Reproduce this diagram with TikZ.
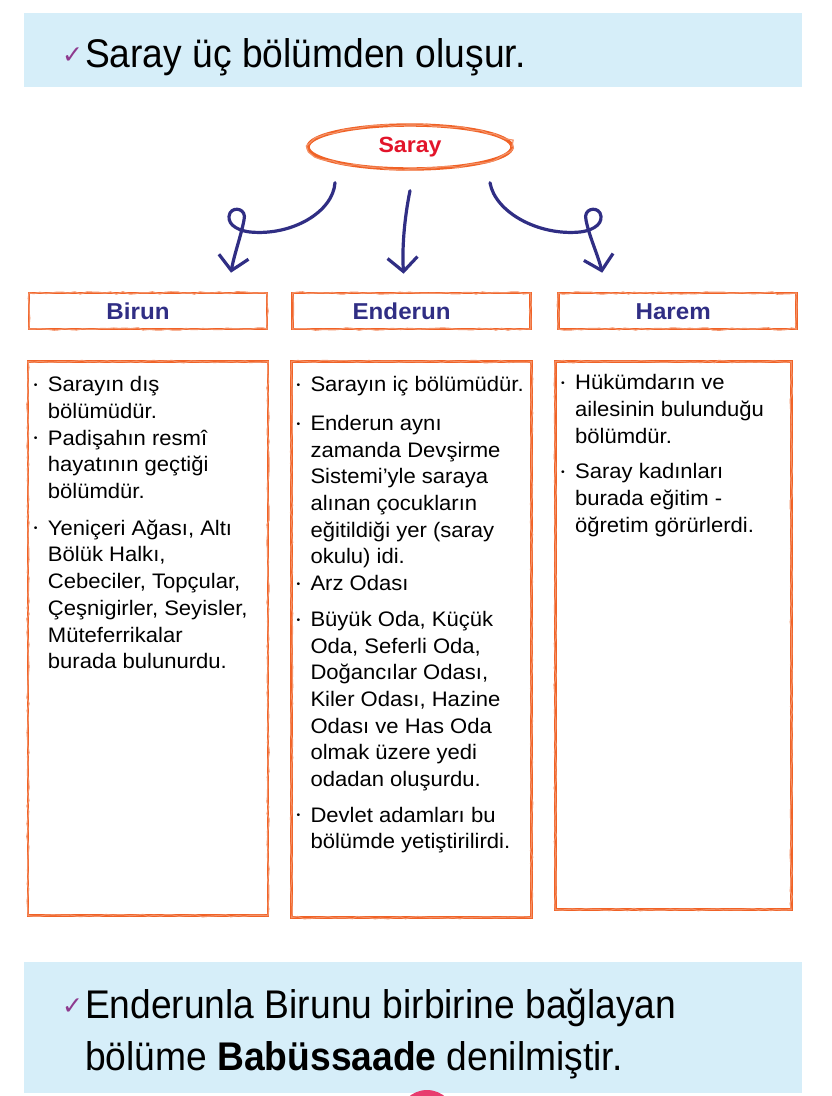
\documentclass[tikz,border=0pt]{standalone}
\usepackage{graphicx}
\usepackage{fontspec}
\setmainfont{Liberation Sans}
\newfontfamily\bannerfont[FakeStretch=0.93]{Liberation Sans}
\newfontfamily\bodyfont[FakeStretch=1.05]{Liberation Sans}
\newfontfamily\symfont{DejaVu Sans}
\usetikzlibrary{positioning, arrows.meta, shapes.geometric, decorations.pathmorphing}
\definecolor{cBanner}{RGB}{214,238,249}
\definecolor{cCrayon}{RGB}{240,98,38}
\definecolor{cNavy}{RGB}{48,46,132}
\definecolor{cRed}{RGB}{226,20,42}
\definecolor{cCheck}{RGB}{142,58,142}
\definecolor{cDot}{RGB}{232,60,110}

\newcommand{\checkm}{\raisebox{4pt}{\symfont\color{cCheck}\fontsize{25}{25}\selectfont ✓}}
\newcommand{\blt}{\makebox[14pt][l]{\raisebox{0.3ex}{\fontsize{10}{10}\selectfont •}}}
\newcommand{\ind}{\hspace*{14pt}}

\tikzset{
  crayon/.style={draw=cCrayon, line width=2.6pt,
    postaction={draw=cCrayon!70!white, line width=1.2pt, decorate,
      decoration={random steps, segment length=6pt, amplitude=1.2pt}}},
  banner/.style={fill=cBanner, minimum width=778pt, inner sep=0pt},
  bannertext/.style={font=\bannerfont\fontsize{40}{52}\selectfont, inner sep=0pt, align=left},
  headbox/.style={crayon, minimum width=238pt, minimum height=36pt, inner sep=0pt,
    text height=17pt, text depth=0pt,
    font=\bodyfont\bfseries\fontsize{23}{23}\selectfont, text=cNavy},
  listbox/.style={crayon, minimum width=240pt, inner sep=0pt},
  listtext/.style={font=\bodyfont\fontsize{21}{26.7}\selectfont, align=left, inner sep=0pt, anchor=north west},
  sketch/.style={draw=cNavy, line width=3.2pt, line cap=round, line join=round,
    -{Straight Barb[length=14pt, width=30pt]}}
}

\begin{document}
\begin{tikzpicture}[x=1pt, y=-1pt]
   \useasboundingbox (0,0) rectangle (832,1096);

   % top line
   \node[banner, minimum height=74pt] (topbar) at (413,50) {};
   \node[bannertext, anchor=base west] (toptext) at ([xshift=38pt, yshift=-17pt]topbar.west)
      {\makebox[23pt][l]{\checkm}Saray üç bölümden oluşur.};

   % Saray and the three parts
   \node[ellipse, crayon, line width=3.4pt, minimum width=204pt, minimum height=44pt,
         font=\bodyfont\bfseries\fontsize{22}{22}\selectfont, text=cRed] (saray) at (410,147) {Saray};

   \node[headbox] (birun) at (148,311) {Birun\hspace*{20pt}};
   \node[headbox, right=23pt of birun] (enderun) {Enderun\hspace*{20pt}};
   \node[headbox, right=25pt of enderun] (harem) {Harem\hspace*{8pt}};

   \node[listbox, minimum height=554pt, below=30pt of birun] (birunbox) {};
   \node[listbox, minimum height=556pt, below=30pt of enderun] (enderunbox) {};
   \node[listbox, minimum width=236pt, minimum height=548pt, below=30pt of harem, xshift=-4pt] (harembox) {};

   % hand drawn arrows
   \draw[sketch] ([xshift=-75pt, yshift=-12pt]saray.south)
      .. controls (333,212) and (292,236) .. (250,232)
      .. controls (234,230) and (226,222) .. (230,213)
      .. controls (234,206) and (247,209) .. (244,220)
      .. controls (241,236) and (234,255) .. ([xshift=83pt, yshift=19pt]birun.north);
   \draw[sketch] ([yshift=-20pt]saray.south)
      .. controls (404,220) and (402,250) .. ([xshift=-8pt, yshift=18pt]enderun.north);
   \draw[sketch] ([xshift=80pt, yshift=-12pt]saray.south)
      .. controls (495,212) and (538,236) .. (580,232)
      .. controls (596,230) and (604,222) .. (600,213)
      .. controls (596,206) and (583,209) .. (586,220)
      .. controls (589,236) and (598,255) .. ([xshift=-75pt, yshift=19pt]harem.north);

   % lists
   \node[listtext] (biruntext) at ([xshift=7pt, yshift=-16pt]birunbox.north west) {%
      \blt Sarayın dış\\
      \ind bölümüdür.\\
      \blt Padişahın resmî\\
      \ind hayatının geçtiği\\
      \ind bölümdür.\\[10pt]
      \blt Yeniçeri Ağası, Altı\\
      \ind Bölük Halkı,\\
      \ind Cebeciler, Topçular,\\
      \ind Çeşnigirler, Seyisler,\\
      \ind Müteferrikalar\\
      \ind burada bulunurdu.};
   \node[listtext] (enderuntext) at ([xshift=6pt, yshift=-16pt]enderunbox.north west) {%
      \blt Sarayın iç bölümüdür.\\[12pt]
      \blt Enderun aynı\\
      \ind zamanda Devşirme\\
      \ind Sistemi’yle saraya\\
      \ind alınan çocukların\\
      \ind eğitildiği yer (saray\\
      \ind okulu) idi.\\
      \blt Arz Odası\\[9pt]
      \blt Büyük Oda, Küçük\\
      \ind Oda, Seferli Oda,\\
      \ind Doğancılar Odası,\\
      \ind Kiler Odası, Hazine\\
      \ind Odası ve Has Oda\\
      \ind olmak üzere yedi\\
      \ind odadan oluşurdu.\\[9pt]
      \blt Devlet adamları bu\\
      \ind bölümde yetiştirilirdi.};
   \node[listtext] (haremtext) at ([xshift=7pt, yshift=-14pt]harembox.north west) {%
      \blt Hükümdarın ve\\
      \ind ailesinin bulunduğu\\
      \ind bölümdür.\\[9pt]
      \blt Saray kadınları\\
      \ind burada eğitim -\\
      \ind öğretim görürlerdi.};

   % bottom line
   \node[banner, minimum height=131pt] (botbar) at (413,1027.5) {};
   \node[bannertext, anchor=north west] (bottext) at ([xshift=38pt, yshift=-27pt]botbar.north west)
      {\makebox[23pt][l]{\checkm}Enderunla Birunu birbirine bağlayan\\
       \hspace*{23pt}bölüme \textbf{Babüssaade} denilmiştir.};

   % page mark cut by the edge
   \begin{scope}
      \clip (0,0) rectangle (832,1096);
      \fill[cDot] (427,1118) circle (28pt);
   \end{scope}
\end{tikzpicture}
\end{document}
